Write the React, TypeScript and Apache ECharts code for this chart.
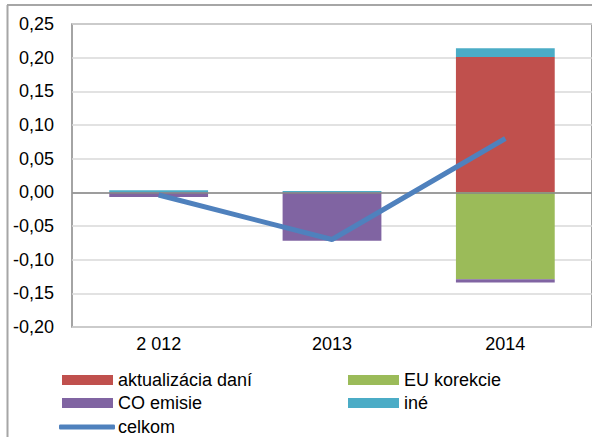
import React, { useEffect, useRef } from "react";
import * as echarts from "echarts";

const categories = ["2 012", "2013", "2014"];
const aktualizaciaDani = [0, 0, 0.201];
const euKorekcie = [0, 0, -0.129];
const coEmisie = [-0.007, -0.072, -0.005];
const ine = [0.003, 0.002, 0.013];
const celkom = [-0.004, -0.07, 0.08];

const FONT = "Liberation Sans";

export default function App() {
  const ref = useRef<HTMLDivElement>(null);
  useEffect(() => {
    if (!ref.current) return;
    const chart = echarts.init(ref.current, undefined, { renderer: "svg" });
    const barBase = {
      type: "bar",
      stack: "total",
      barWidth: "57%",
      z: 2,
    };
    const legendText = { fontSize: 18, fontFamily: FONT, color: "#000" };
    chart.setOption({
      animation: false,
      backgroundColor: "#ffffff",
      textStyle: { fontFamily: FONT },
      grid: {
        left: 72,
        top: 24,
        width: 523,
        height: 303,
        show: true,
        borderColor: "#868686",
        borderWidth: 1.5,
        backgroundColor: "transparent",
      },
      xAxis: {
        type: "category",
        data: categories,
        axisLine: { show: false, onZero: false },
        axisTick: { show: false },
        axisLabel: { color: "#000", fontSize: 18, fontFamily: FONT, margin: 8 },
        splitLine: { show: false },
      },
      yAxis: {
        type: "value",
        min: -0.2,
        max: 0.25,
        interval: 0.05,
        axisLine: { show: false },
        axisTick: { show: false },
        axisLabel: {
          color: "#000",
          fontSize: 18,
          fontFamily: FONT,
          margin: 18,
          formatter: (v: number) => v.toFixed(2).replace(".", ","),
        },
        splitLine: { show: true, lineStyle: { color: "#d9d9d9", width: 1.5 } },
      },
      legend: [
        {
          orient: "vertical",
          left: 62,
          top: 371,
          padding: 0,
          itemWidth: 51,
          itemHeight: 10,
          itemGap: 5,
          icon: "rect",
          textStyle: legendText,
          data: ["aktualizácia daní", "CO emisie"],
        },
        {
          orient: "vertical",
          left: 348,
          top: 371,
          padding: 0,
          itemWidth: 51,
          itemHeight: 10,
          itemGap: 5,
          icon: "rect",
          textStyle: legendText,
          data: ["EU korekcie", "iné"],
        },
        {
          orient: "vertical",
          left: 59,
          top: 418,
          padding: 0,
          itemWidth: 56,
          itemHeight: 5,
          icon: "roundRect",
          textStyle: { ...legendText, padding: [0, 0, 0, -2] },
          data: ["celkom"],
        },
      ],
      graphic: [
        {
          type: "line",
          shape: { x1: 7.5, y1: 5, x2: 7.5, y2: 437 },
          style: { stroke: "#a6a6a6", lineWidth: 2 },
          silent: true,
        },
        {
          type: "line",
          shape: { x1: 7, y1: 5, x2: 592, y2: 5 },
          style: { stroke: "#a6a6a6", lineWidth: 2 },
          silent: true,
        },
      ],
      series: [
        {
          ...barBase,
          name: "aktualizácia daní",
          data: aktualizaciaDani,
          itemStyle: { color: "#c0504d" },
          markLine: {
            silent: true,
            symbol: "none",
            label: { show: false },
            lineStyle: { color: "#868686", width: 1.5, type: "solid" },
            data: [{ yAxis: 0 }],
            z: 3,
          },
        },
        {
          ...barBase,
          name: "EU korekcie",
          data: euKorekcie,
          itemStyle: { color: "#9bbb59" },
        },
        {
          ...barBase,
          name: "CO emisie",
          data: coEmisie,
          itemStyle: { color: "#8064a2" },
        },
        {
          ...barBase,
          name: "iné",
          data: ine,
          itemStyle: { color: "#4bacc6" },
        },
        {
          type: "line",
          name: "celkom",
          data: celkom,
          symbol: "none",
          z: 5,
          lineStyle: { color: "#4f81bd", width: 5 },
          itemStyle: { color: "#4f81bd" },
        },
      ],
    });
    return () => chart.dispose();
  }, []);
  return (
    <div
      ref={ref}
      style={{ position: "fixed", left: 0, top: 0, width: 592, height: 437 }}
    />
  );
}
